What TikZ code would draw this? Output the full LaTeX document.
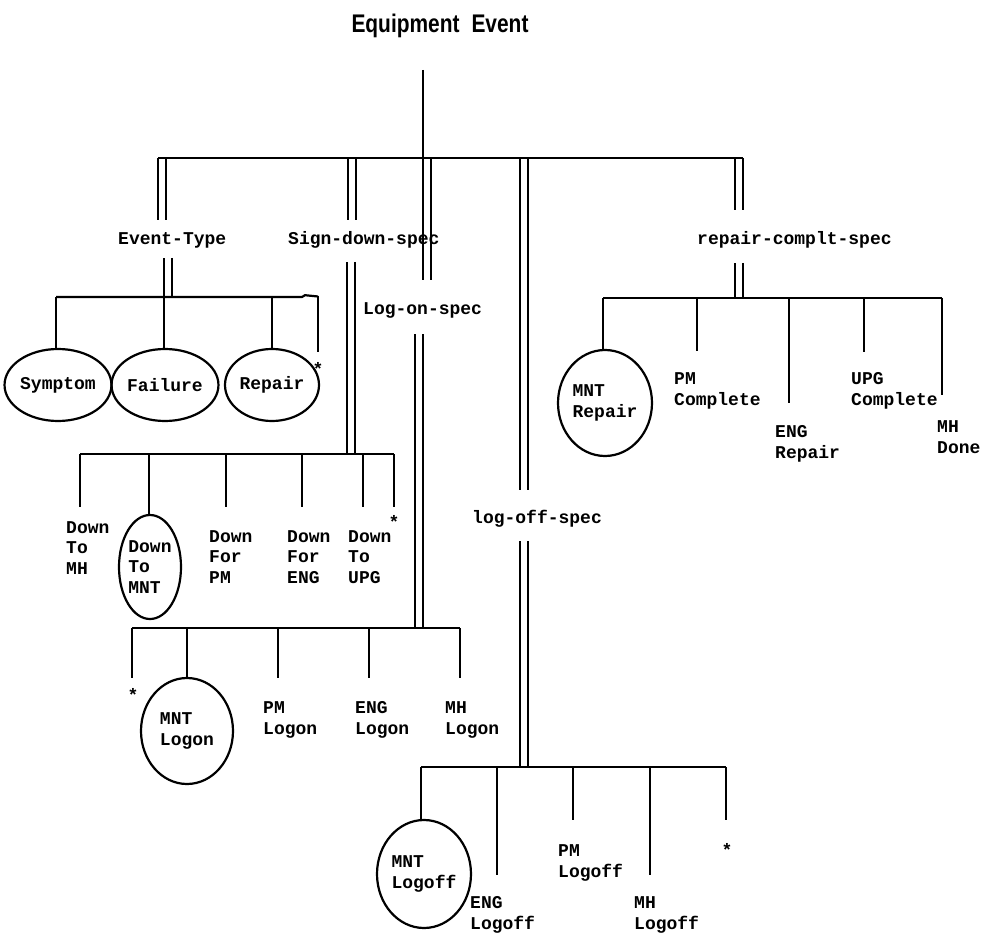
\documentclass[tikz,border=0pt]{standalone}
\usepackage{fontspec}
\setmonofont{Liberation Mono}
\newfontfamily\titlefont[FakeStretch=0.82]{Liberation Sans}
\usetikzlibrary{shapes.geometric}
\tikzset{
  ln/.style={line width=2.2pt},
  dbl/.style={double=white, double distance=5.5pt, line width=2.2pt},
  lbl/.style={font=\ttfamily\bfseries\fontsize{18}{20.5}\selectfont, align=left, inner sep=0pt, anchor=west},
  oval/.style={ellipse, draw, line width=2.2pt, inner sep=0pt, font=\ttfamily\bfseries\fontsize{18}{20.5}\selectfont, align=left},
  ttl/.style={font=\titlefont\bfseries\fontsize{25.5}{30}\selectfont, inner sep=0pt, anchor=base},
  starmark/.style={font=\ttfamily\bfseries\fontsize{18}{20}\selectfont, inner sep=0pt}
}
\begin{document}
\begin{tikzpicture}[x=1pt,y=-1pt]
\useasboundingbox[fill=white] (0,0) rectangle (986,936);
% ---- double connectors (drawn first) ----
\coordinate (et0) at (162,158); \coordinate (et1) at (162,220);
\coordinate (et2) at (168,258); \coordinate (et3) at (168,297);
\coordinate (sd0) at (352,158); \coordinate (sd1) at (352,220);
\coordinate (sd2) at (351,262); \coordinate (sd3) at (351,454);
\coordinate (lo0) at (427,158); \coordinate (lo1) at (427,280);
\coordinate (lo2) at (419,334); \coordinate (lo3) at (419,628);
\coordinate (lf0) at (524,158); \coordinate (lf1) at (524,490);
\coordinate (lf2) at (524,541); \coordinate (lf3) at (524,767);
\coordinate (rc0) at (739,158); \coordinate (rc1) at (739,210);
\coordinate (rc2) at (739,263); \coordinate (rc3) at (739,298);
\foreach \a/\b in {et0/et1,et2/et3,sd0/sd1,sd2/sd3,lo0/lo1,lo2/lo3,lf0/lf1,lf2/lf3,rc0/rc1,rc2/rc3}
  \draw[dbl] (\a) -- (\b);
% ---- title and root ----
\node[ttl] (title) at (440,33) {Equipment\hspace{12pt}Event};
\coordinate (r0) at (423,70); \coordinate (r1) at (423,158);
\coordinate (barL) at (158,158); \coordinate (barR) at (743,158);
\draw[ln] (r0) -- (r1);
\draw[ln] (barL) -- (barR);
% ---- spec labels ----
\node[lbl] (et) at (118,240) {Event-Type};
\node[lbl] (sd) at (288,240) {Sign-down-spec};
\node[lbl] (lo) at (363,310) {Log-on-spec};
\node[lbl] (lf) at (472,519) {log-off-spec};
\node[lbl] (rc) at (697,240) {repair-complt-spec};
% ---- Event-Type children ----
\coordinate (etL) at (56,297); \coordinate (etB) at (164,297);
\coordinate (etC) at (272,297); \coordinate (etK) at (302,297);
\coordinate (etR) at (318,296.5);
\coordinate (etS) at (318,352);
\draw[ln] (etL) -- (etK) -- ++(3,-1.8) -- (etR);
\node[oval, minimum width=94, minimum height=72] (sym) at (58,385) {Symptom};
\node[oval, minimum width=94, minimum height=72] (fail) at (165,385) {Failure};
\node[oval, minimum width=94, minimum height=72] (rep) at (272,385) {Repair};
\draw[ln] (etL) -- (etL |- sym.north);
\draw[ln] (etB) -- (etB |- fail.north);
\draw[ln] (etC) -- (etC |- rep.north);
\draw[ln] (etR) -- (etS);
\node[starmark] (st1) at (318,369) {*};
% ---- Sign-down children ----
\coordinate (sdL) at (80,454); \coordinate (sdB) at (149,454);
\coordinate (sdC) at (226,454); \coordinate (sdD) at (302,454);
\coordinate (sdE) at (363,454); \coordinate (sdR) at (394,454);
\coordinate (sdLe) at (80,507); \coordinate (sdCe) at (226,507);
\coordinate (sdDe) at (302,507); \coordinate (sdEe) at (363,507);
\coordinate (sdRe) at (394,507);
\draw[ln] (sdL) -- (sdR);
\node[lbl] (dmh) at (66,548) {Down\\To\\MH};
\node[oval, minimum width=62, minimum height=104] (dmnt) at (150,567) {Down\\To\\MNT};
\node[lbl] (dpm) at (209,557) {Down\\For\\PM};
\node[lbl] (deng) at (287,557) {Down\\For\\ENG};
\node[lbl] (dupg) at (348,557) {Down\\To\\UPG};
\node[starmark] (st2) at (394,522) {*};
\draw[ln] (sdL) -- (sdLe);
\draw[ln] (sdB) -- (sdB |- dmnt.north);
\draw[ln] (sdC) -- (sdCe);
\draw[ln] (sdD) -- (sdDe);
\draw[ln] (sdE) -- (sdEe);
\draw[ln] (sdR) -- (sdRe);
% ---- Log-on children ----
\coordinate (loL) at (132,628); \coordinate (loB) at (187,628);
\coordinate (loC) at (278,628); \coordinate (loD) at (369,628);
\coordinate (loR) at (460,628);
\coordinate (loLe) at (132,678); \coordinate (loCe) at (278,678);
\coordinate (loDe) at (369,678); \coordinate (loRe) at (460,678);
\draw[ln] (loL) -- (loR);
\node[oval, minimum width=92, minimum height=106] (mntlogon) at (187,731) {MNT\\Logon};
\node[starmark] (st3) at (133,695) {*};
\node[lbl] (pmlogon) at (263,720) {PM\\Logon};
\node[lbl] (englogon) at (355,720) {ENG\\Logon};
\node[lbl] (mhlogon) at (445,720) {MH\\Logon};
\draw[ln] (loL) -- (loLe);
\draw[ln] (loB) -- (loB |- mntlogon.north);
\draw[ln] (loC) -- (loCe);
\draw[ln] (loD) -- (loDe);
\draw[ln] (loR) -- (loRe);
% ---- log-off children ----
\coordinate (lfL) at (421,767); \coordinate (lfB) at (497,767);
\coordinate (lfC) at (573,767); \coordinate (lfD) at (650,767);
\coordinate (lfR) at (726,767);
\coordinate (lfBe) at (497,875); \coordinate (lfCe) at (573,820);
\coordinate (lfDe) at (650,875); \coordinate (lfRe) at (726,820);
\draw[ln] (lfL) -- (lfR);
\node[oval, minimum width=94, minimum height=108] (mntlogoff) at (424,874) {MNT\\Logoff};
\node[lbl] (englogoff) at (470,915) {ENG\\Logoff};
\node[lbl] (pmlogoff) at (558,863) {PM\\Logoff};
\node[lbl] (mhlogoff) at (634,915) {MH\\Logoff};
\node[starmark] (st4) at (727,850) {*};
\draw[ln] (lfL) -- (lfL |- mntlogoff.north);
\draw[ln] (lfB) -- (lfBe);
\draw[ln] (lfC) -- (lfCe);
\draw[ln] (lfD) -- (lfDe);
\draw[ln] (lfR) -- (lfRe);
% ---- repair-complt children ----
\coordinate (rcL) at (603,298); \coordinate (rcB) at (697,298);
\coordinate (rcC) at (789,298); \coordinate (rcD) at (864,298);
\coordinate (rcR) at (942,298);
\coordinate (rcBe) at (697,351); \coordinate (rcCe) at (789,403);
\coordinate (rcDe) at (864,352); \coordinate (rcRe) at (942,395);
\draw[ln] (rcL) -- (rcR);
\node[oval, minimum width=94, minimum height=106] (mntrepair) at (605,403) {MNT\\Repair};
\node[lbl] (pmcomplete) at (674,391) {PM\\Complete};
\node[lbl] (engrepair) at (775,444) {ENG\\Repair};
\node[lbl] (upgcomplete) at (851,391) {UPG\\Complete};
\node[lbl] (mhdone) at (937,437) {MH\\Done};
\draw[ln] (rcL) -- (rcL |- mntrepair.north);
\draw[ln] (rcB) -- (rcBe);
\draw[ln] (rcC) -- (rcCe);
\draw[ln] (rcD) -- (rcDe);
\draw[ln] (rcR) -- (rcRe);
\end{tikzpicture}
\end{document}
